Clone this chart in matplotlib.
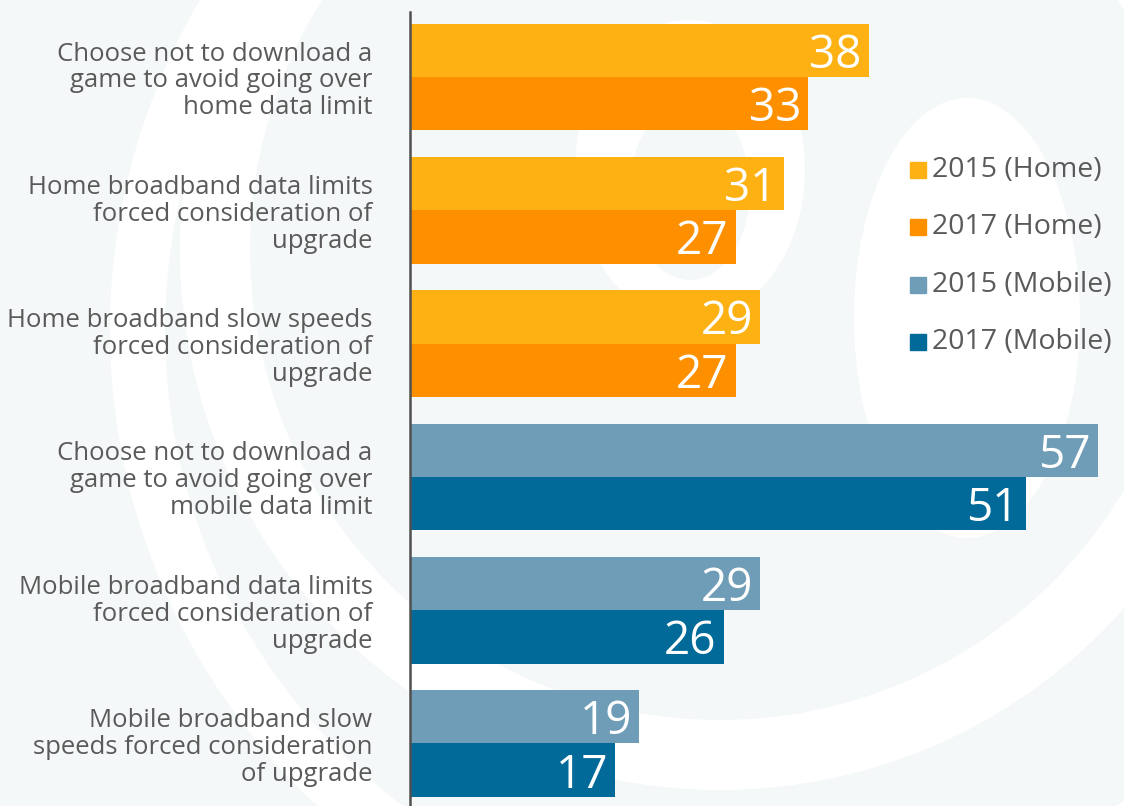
import numpy as np
import matplotlib.pyplot as plt
from matplotlib.patches import Ellipse, Annulus

categories = [
    "Choose not to download a\ngame to avoid going over\nhome data limit",
    "Home broadband data limits\nforced consideration of\nupgrade",
    "Home broadband slow speeds\nforced consideration of\nupgrade",
    "Choose not to download a\ngame to avoid going over\nmobile data limit",
    "Mobile broadband data limits\nforced consideration of\nupgrade",
    "Mobile broadband slow\nspeeds forced consideration\nof upgrade",
]
# first bar of each pair is 2015, second is 2017
values_2015 = [38, 31, 29, 57, 29, 19]
values_2017 = [33, 27, 27, 51, 26, 17]
is_mobile = [False, False, False, True, True, True]

series_labels = ["2015 (Home)", "2017 (Home)", "2015 (Mobile)", "2017 (Mobile)"]
colors = {"2015 (Home)": "#fdb113", "2017 (Home)": "#fe9000",
          "2015 (Mobile)": "#6f9db7", "2017 (Mobile)": "#016a98"}

plt.rcParams['font.family'] = ['Open Sans', 'DejaVu Sans']
text_color = "#5a5a5a"

fig = plt.figure(figsize=(11.24, 8.06), dpi=100, facecolor="#f5f8f9")
W, H = 1124, 806

# faint decorative rings in the background
bg = fig.add_axes([0, 0, 1, 1], zorder=-10)
bg.set_xlim(0, W)
bg.set_ylim(H, 0)
bg.axis("off")
bg.add_patch(Annulus((760, 330), 650, 55, color="white", lw=0))
bg.add_patch(Annulus((720, 250), 540, 70, color="white", lw=0))
bg.add_patch(Ellipse((967, 318), 226, 440, color="white", lw=0))
bg.add_patch(Ellipse((690, 170), 230, 300, color="white", lw=0))
bg.add_patch(Ellipse((690, 190), 120, 180, color="#f5f8f9", lw=0))

ax = fig.add_axes([410 / W, 0, 1 - 410 / W, 1 - 12 / H])
ax.set_facecolor("none")

y = np.arange(len(categories))
h = 0.4
for i in y:
    c15 = colors["2015 (Mobile)"] if is_mobile[i] else colors["2015 (Home)"]
    c17 = colors["2017 (Mobile)"] if is_mobile[i] else colors["2017 (Home)"]
    ax.barh(i - h / 2, values_2015[i], height=h, color=c15)
    ax.barh(i + h / 2, values_2017[i], height=h, color=c17)
    ax.text(values_2015[i] - 0.6, i - h / 2, str(values_2015[i]), ha="right", va="center_baseline",
            color="white", fontsize=33)
    ax.text(values_2017[i] - 0.6, i + h / 2, str(values_2017[i]), ha="right", va="center_baseline",
            color="white", fontsize=33)

ax.set_xlim(0, 59.15)
ax.set_ylim(5.469, -0.488)
ax.set_xticks([])
ax.set_yticks(y)
ax.set_yticklabels(categories, fontsize=18.5, color=text_color, linespacing=1.1)
ax.tick_params(axis="y", length=0, pad=27)
for side in ["top", "right", "bottom"]:
    ax.spines[side].set_visible(False)
ax.spines["left"].set_color("#505050")
ax.spines["left"].set_linewidth(1.8)

# legend built by hand as squares with labels
for k, lab in enumerate(series_labels):
    yy = 170 + k * 57.3
    fig.patches.append(plt.Rectangle((910 / W, 1 - (yy + 8) / H), 16 / W, 16 / H,
                                     transform=fig.transFigure, color=colors[lab]))
    fig.text(932 / W, 1 - yy / H, lab, ha="left", va="center", fontsize=20.5,
             color=text_color)

fig.savefig("out.png", dpi=100, facecolor=fig.get_facecolor())
